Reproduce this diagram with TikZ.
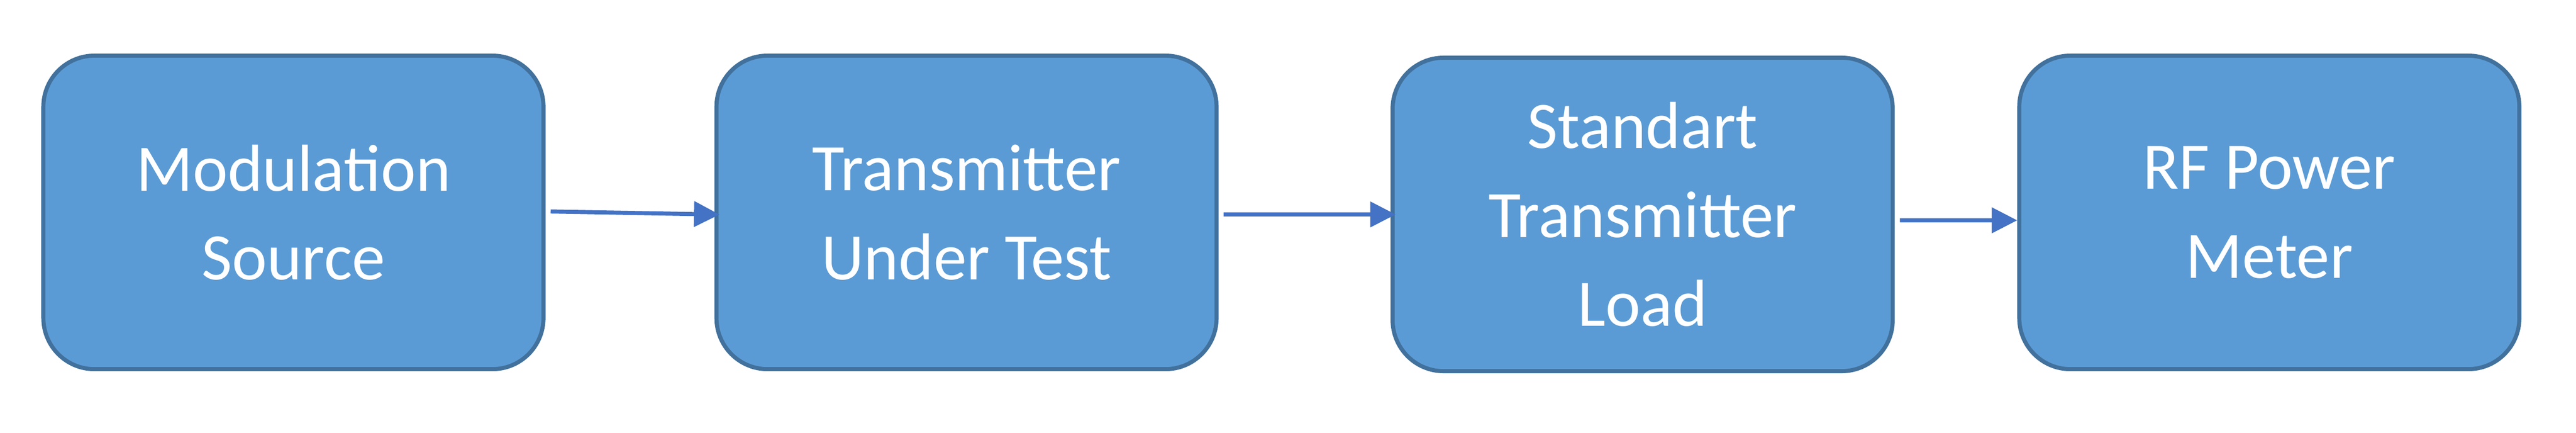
\documentclass[tikz,border=0pt]{standalone}
\usepackage{fontspec}
\setmainfont{Carlito}
\usetikzlibrary{positioning, arrows.meta}
\definecolor{boxfill}{HTML}{5B9BD5}
\definecolor{boxline}{HTML}{41719C}
\definecolor{linkblue}{HTML}{4472C4}
\tikzset{
	>={Triangle[length=0.5cm, width=0.49cm]}, % filled triangle heads
	block/.style={draw=boxline, fill=boxfill, line width=0.08cm, rounded corners=1cm,
		minimum width=9.8cm, minimum height=6.14cm, align=center, text=white,
		font=\fontsize{37}{49.5}\selectfont}, % the four blue boxes
	link/.style={->, draw=linkblue, line width=0.08cm, shorten <=0.1cm, shorten >=-0.1cm}, % connectors
}
\begin{document}
\begin{tikzpicture}
			\useasboundingbox (0,0) rectangle (50.48,8.48);
			\node[block] (ms) at (5.75,4.32) {Modulation\\Source};
			\node[block] (tut) [right=3.31cm of ms] {Transmitter\\Under Test};
			\node[block] (stl) [right=3.37cm of tut, yshift=-0.04cm] {Standart\\Transmitter\\Load};
			\node[block] (pm) [right=2.40cm of stl, yshift=0.04cm] {RF Power\\Meter};

			\draw ([yshift=0.02cm]ms.east) edge[link] ([yshift=-0.04cm]tut.west)
				  ([yshift=-0.04cm]tut.east) edge[link] (stl.west)
				  ([yshift=-0.115cm]stl.east) edge[link, shorten >=0cm] ([yshift=-0.155cm]pm.west);
		\end{tikzpicture}
\end{document}
